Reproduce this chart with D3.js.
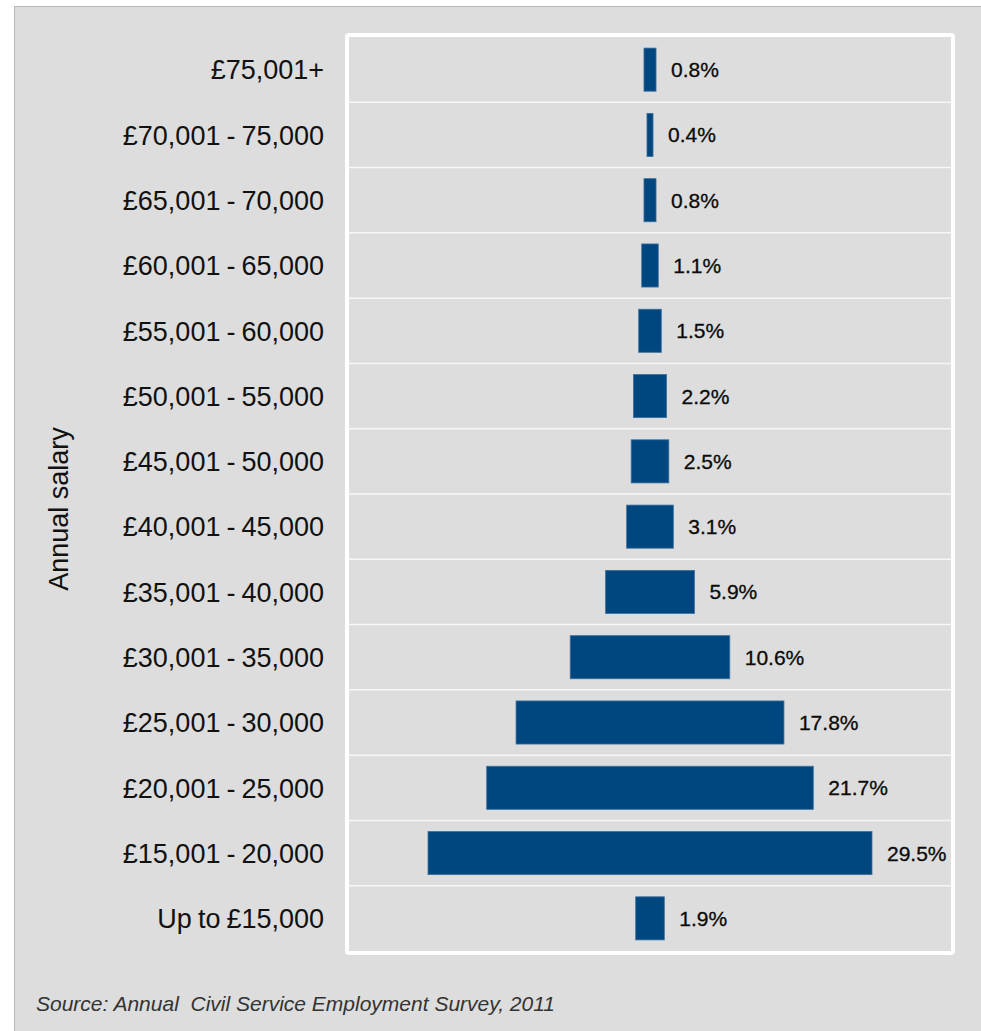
<!DOCTYPE html>
<html>
<head>
<meta charset="utf-8">
<script src="https://cdn.jsdelivr.net/npm/d3@7"></script>
<style>
  html, body { margin: 0; padding: 0; background: #ffffff; }
  svg { display: block; }
  text { font-family: "Liberation Sans", Arial, sans-serif; }
</style>
</head>
<body>
<svg id="chart" width="981" height="1031"></svg>
<script>
// Salary bands, highest at the top
const categories = [
  "£75,001+",
  "£70,001 - 75,000",
  "£65,001 - 70,000",
  "£60,001 - 65,000",
  "£55,001 - 60,000",
  "£50,001 - 55,000",
  "£45,001 - 50,000",
  "£40,001 - 45,000",
  "£35,001 - 40,000",
  "£30,001 - 35,000",
  "£25,001 - 30,000",
  "£20,001 - 25,000",
  "£15,001 - 20,000",
  "Up to £15,000"
];
// Share of staff in each band (%)
const shares = [0.8, 0.4, 0.8, 1.1, 1.5, 2.2, 2.5, 3.1, 5.9, 10.6, 17.8, 21.7, 29.5, 1.9];
const valueLabels = ["0.8%", "0.4%", "0.8%", "1.1%", "1.5%", "2.2%", "2.5%", "3.1%", "5.9%", "10.6%", "17.8%", "21.7%", "29.5%", "1.9%"];

const axisTitle = "Annual salary";
const sourceNote = "Source: Annual  Civil Service Employment Survey, 2011";

const svg = d3.select("#chart");

// outer panel
svg.append("rect")
  .attr("x", 14.5).attr("y", 6.5)
  .attr("width", 1000).attr("height", 1100)
  .attr("fill", "#dcdddc")
  .attr("stroke", "#b8b8b8").attr("stroke-width", 1);

// plot area (inside the white frame)
const plot = { left: 349, right: 951, top: 37, bottom: 951 };

const x = d3.scaleLinear().domain([-20, 20]).range([plot.left, plot.right]);
const rows = d3.scaleBand().domain(categories).range([plot.top, plot.bottom]).padding(0);
const bars = d3.scaleBand().domain(categories).range([plot.top, plot.bottom])
  .paddingInner(0.34).paddingOuter(0.17);

// row separators
svg.append("g")
  .selectAll("line")
  .data(categories.slice(1))
  .join("line")
  .attr("x1", plot.left).attr("x2", plot.right)
  .attr("y1", d => rows(d)).attr("y2", d => rows(d))
  .attr("stroke", "#f7f7f7").attr("stroke-width", 1.5);

// white frame
svg.append("rect")
  .attr("x", 347).attr("y", 35)
  .attr("width", 606).attr("height", 918)
  .attr("rx", 2)
  .attr("fill", "none")
  .attr("stroke", "#ffffff").attr("stroke-width", 4);

// centred bars
svg.append("g")
  .selectAll("rect")
  .data(categories)
  .join("rect")
  .attr("x", (d, i) => x(-shares[i] / 2))
  .attr("width", (d, i) => x(shares[i] / 2) - x(-shares[i] / 2))
  .attr("y", d => bars(d))
  .attr("height", bars.bandwidth())
  .attr("fill", "#00477f")
  .attr("stroke", "#3b6f9f").attr("stroke-width", 0.8);

// value labels
svg.append("g")
  .selectAll("text")
  .data(categories)
  .join("text")
  .attr("x", (d, i) => x(shares[i] / 2) + 15)
  .attr("y", d => bars(d) + bars.bandwidth() / 2)
  .attr("dy", "0.36em")
  .attr("font-size", 21)
  .attr("fill", "#0a0a0a")
  .attr("stroke", "#0a0a0a").attr("stroke-width", 0.3)
  .text((d, i) => valueLabels[i]);

// category axis
const yAxis = svg.append("g")
  .attr("transform", "translate(345,0)")
  .call(d3.axisLeft(rows).tickSize(0).tickPadding(21));
yAxis.select(".domain").remove();
yAxis.selectAll("text")
  .attr("font-family", "'Liberation Sans', Arial, sans-serif")
  .attr("font-size", 27)
  .attr("word-spacing", -1.5)
  .attr("fill", "#111111")
  .attr("dy", "0.36em");

// axis title
svg.append("text")
  .attr("transform", "translate(68,509) rotate(-90)")
  .attr("text-anchor", "middle")
  .attr("font-size", 27)
  .attr("fill", "#111111")
  .text(axisTitle);

// source note
svg.append("text")
  .attr("x", 36).attr("y", 1011)
  .attr("font-size", 21)
  .attr("font-style", "italic")
  .attr("fill", "#333333")
  .attr("xml:space", "preserve")
  .style("white-space", "pre")
  .text(sourceNote);
</script>
</body>
</html>
